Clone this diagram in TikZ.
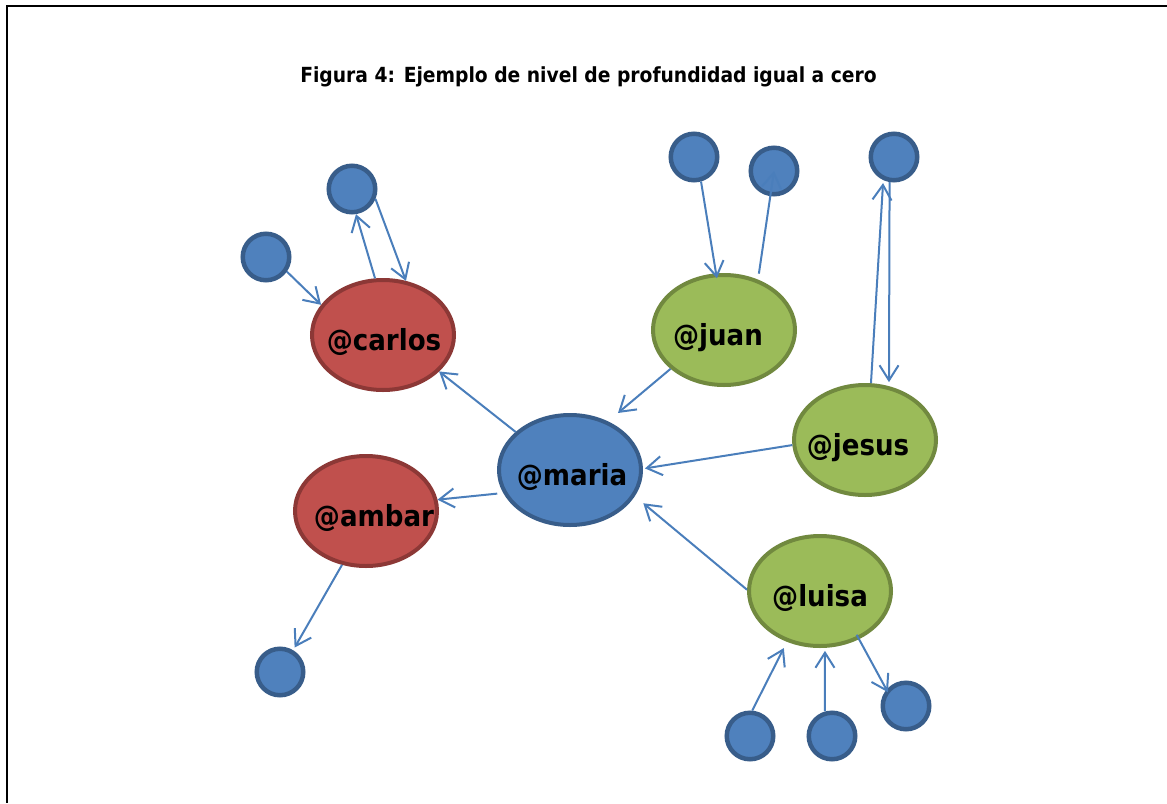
\documentclass[tikz,border=0pt]{standalone}
\usepackage{fontspec}
\setmainfont{DejaVu Sans Condensed}
\usetikzlibrary{arrows.meta,shapes.geometric}
\definecolor{bfill}{HTML}{4F81BD}
\definecolor{bline}{HTML}{385D8A}
\definecolor{rfill}{HTML}{C0504D}
\definecolor{rline}{HTML}{8C3836}
\definecolor{gfill}{HTML}{9BBB59}
\definecolor{gline}{HTML}{71893F}
\definecolor{conncol}{HTML}{4A7EBB}
\newcommand\ulab[2][0pt]{\kern#1\relax\makebox[0pt]{#2}\kern-#1\relax}
\begin{document}
\begin{tikzpicture}[x=1pt,y=-1pt,
  user/.style={ellipse, line width=4pt, minimum width=142pt, minimum height=110pt,
    inner sep=0pt, font=\bfseries\fontsize{29}{29}\selectfont, text height=30pt, text depth=0pt},
  redu/.style={user, draw=rline, fill=rfill},
  greenu/.style={user, draw=gline, fill=gfill},
  blueu/.style={user, draw=bline, fill=bfill},
  dot/.style={circle, draw=bline, fill=bfill, line width=4.5pt, minimum size=46.5pt, inner sep=0pt},
  conn/.style={draw=conncol, line width=2pt, -{Straight Barb[length=15pt,width=19pt]}},
  frame/.style={draw=black, line width=2pt}]
\useasboundingbox (0,0) rectangle (1167,803);
\draw[frame] (1167,6) -- (7,6) -- (7,803);
\node[anchor=base, font=\bfseries\fontsize{20.8}{20.8}\selectfont] (title) at (588.5,82) {Figura 4: Ejemplo de nivel de profundidad igual a cero};
% main users
\node[redu] (carlos) at (383,335) {\ulab[1pt]{@carlos}};
\node[greenu] (juan) at (724,330) {\ulab[-6pt]{@juan}};
\node[greenu] (jesus) at (865,440) {\ulab[-7pt]{@jesus}};
\node[blueu] (maria) at (570,470) {\ulab[2pt]{@maria}};
\node[redu] (ambar) at (366,511) {\ulab[8pt]{@ambar}};
\node[greenu] (luisa) at (820,591) {\ulab{@luisa}};
% small nodes
\node[dot] (ct) at (352,189) {};
\node[dot] (cl) at (266,257) {};
\node[dot] (jl) at (694,157) {};
\node[dot] (jr) at (774,171) {};
\node[dot] (jt) at (894,157) {};
\node[dot] (ab) at (280,672) {};
\node[dot] (bl) at (750,736) {};
\node[dot] (bm) at (832,736) {};
\node[dot] (br) at (906,706) {};
% connectors
\draw[conn] (maria.145) -- (carlos.-33);
\draw[conn, shorten >=13pt] (juan.-144) -- (maria.52);
\draw[conn, shorten >=2pt] (jesus.184) -- (maria.1);
\draw[conn, shorten >=11pt] (luisa.179) -- (maria.-22);
\draw[conn, shorten <=6pt] (maria.199) -- (ambar.9);
\draw[conn, shorten >=3pt] (ambar.-114) -- (ab.59);
\draw[conn] (cl.-35) -- (carlos.154);
\draw[conn] (carlos.98) -- (ct.-81);
\draw[conn] (ct.-23) -- (carlos.67);
\draw[conn, shorten >=-5pt] (jl.-74) -- (juan.98);
\draw[conn, shorten <=6pt] (juan.56) -- (jr.center);
\draw[conn, shorten >=3pt] (jesus.84) -- (jt.-115);
\draw[conn, shorten >=4pt] (jt.-100) -- (jesus.66);
\draw[conn, shorten >=7pt] (bl.85) -- (luisa.-123);
\draw[conn, shorten >=3pt] (bm.106) -- (luisa.-85);
\draw[conn, shorten <=-5pt, shorten >=-3pt] (luisa.-51) -- (br.140);
\end{tikzpicture}
\end{document}
